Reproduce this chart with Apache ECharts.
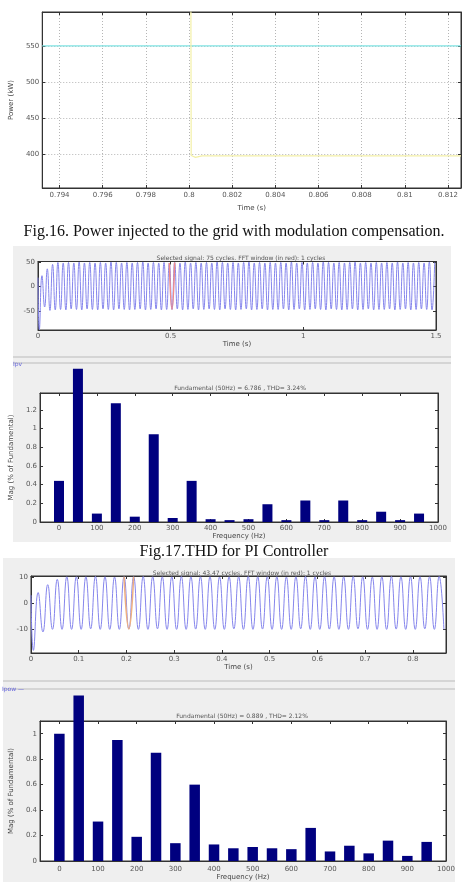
<!DOCTYPE html>
<html>
<head>
<meta charset="utf-8">
<script src="https://cdn.jsdelivr.net/npm/echarts@6.0.0/dist/echarts.min.js"></script>
<style>
  html, body { margin: 0; padding: 0; background: #fff; }
  #main { width: 468px; height: 882px; }
</style>
</head>
<body>
<div id="main"></div>
<script>
// Fig.16 power to grid
const pwrTicksX = [0.794, 0.796, 0.798, 0.8, 0.802, 0.804, 0.806, 0.808, 0.81, 0.812]
const pwrTicksY = [400, 450, 500, 550]
const pwrRef = [[0.7932, 550], [0.8126, 550]]
const pwrOut = [[0.7932, 700], [0.80008, 700], [0.8001, 398], [0.8003, 395.5], [0.8006, 397.5], [0.8126, 397.5]]

// Fig.17 top : selected signal, extrema every half cycle (50Hz)
const sigAStart = [0, 18]
const sigA = [
  -88, 22, -42, 36, -49, 45, -48, 49, -47, 48,
  -48, 49, -46, 48, -47, 50, -48, 48, -46, 49,
  -47, 48, -48, 49, -46, 48, -47, 50, -48, 49,
  -46, 48, -47, 49, -48, 48, -47, 49, -46, 50,
  -48, 48, -47, 49, -46, 48, -48, 49, -47, 48,
  -47, 49, -46, 48, -48, 50, -47, 48, -46, 49,
  -48, 48, -47, 49, -46, 48, -47, 50, -48, 49,
  -46, 48, -47, 49, -48, 48, -47, 49, -46, 50,
  -48, 48, -47, 49, -46, 48, -48, 49, -47, 48,
  -47, 49, -46, 48, -48, 50, -47, 48, -46, 49,
  -48, 48, -47, 49, -46, 48, -47, 50, -48, 49,
  -46, 48, -47, 49, -48, 48, -47, 49, -46, 50,
  -48, 48, -47, 49, -46, 48, -48, 49, -47, 48,
  -47, 49, -46, 48, -48, 50, -47, 48, -46, 49,
  -48, 48, -47, 49, -46, 48, -47, 50, -48, 49
]
const sigAWin = [0.495, 0.52]
const sigATicksX = [0, 0.5, 1, 1.5]
const sigATicksY = [-50, 0, 50]

// Fig.17 bottom : harmonic spectrum
const freqs = [0, 50, 100, 150, 200, 250, 300, 350, 400, 450, 500, 550, 600, 650, 700, 750, 800, 850, 900, 950]
const magPI = [0.44, 1.64, 0.09, 1.27, 0.057, 0.94, 0.043, 0.44, 0.03, 0.02, 0.03, 0.19, 0.02, 0.23, 0.02, 0.23, 0.02, 0.11, 0.02, 0.09]
const freqTicks = [0, 100, 200, 300, 400, 500, 600, 700, 800, 900, 1000]
const magPITicks = [0, 0.2, 0.4, 0.6, 0.8, 1, 1.2]

// Fig.18 top
const sigBStart = [0, 3]
const sigB = [
  -18, 4, -11, 7, -10, 9, -10, 10, -10, 10,
  -10, 10, -9.8, 10.1, -10, 10, -10, 9.9, -10, 10,
  -9.9, 10, -10, 10.1, -10, 10, -9.8, 10, -10, 10,
  -10, 10.1, -10, 10, -9.9, 10, -10, 10, -10, 9.9,
  -10, 10, -9.8, 10, -10, 10.1, -10, 10, -9.9, 10,
  -10, 10, -10, 9.9, -10, 10, -9.8, 10.1, -10, 10,
  -10, 10, -9.9, 10, -10, 10, -10, 10.1, -9.8, 10,
  -10, 9.9, -10, 10, -10, 10.1, -9.9, 10, -10, 10,
  -10, 10, -9.8, 10, -10, 10.1, -10
]
const sigBWin = [0.195, 0.22]
const sigBTicksX = [0, 0.1, 0.2, 0.3, 0.4, 0.5, 0.6, 0.7, 0.8]
const sigBTicksY = [-10, 0, 10]

// Fig.18 bottom
const magNew = [1.0, 1.30, 0.31, 0.95, 0.19, 0.85, 0.14, 0.60, 0.13, 0.10, 0.11, 0.10, 0.093, 0.26, 0.075, 0.12, 0.06, 0.16, 0.04, 0.15]
const magNewTicks = [0, 0.2, 0.4, 0.6, 0.8, 1]

const HALF = 0.01   // half period of 50 Hz
function wave (start, vals) {
  const out = [start]
  vals.forEach((v, i) => out.push([+(HALF / 2 + i * HALF).toFixed(4), v]))
  return out
}
const waveA = wave(sigAStart, sigA)
const waveB = wave(sigBStart, sigB)

const AX = '#333'
const LBL = { fontSize: 7, color: '#555', fontFamily: 'DejaVu Sans', formatter: v => String(v) }

// x axes: bottom with labels, top with ticks only
function xAxes (g, min, max, ticks, name, gap, margin, split) {
  const base = {
    type: 'value', gridIndex: g, min: min, max: max,
    axisLine: { show: true, onZero: false, lineStyle: { color: AX } },
    axisTick: { show: true, inside: true, length: 3, customValues: ticks, lineStyle: { color: AX } },
    splitLine: { show: !!split, lineStyle: { color: '#b5b5b5', type: [1, 2] } }
  }
  return [
    Object.assign({}, base, {
      position: 'bottom',
      axisLabel: Object.assign({ customValues: ticks, margin: margin }, LBL),
      name: name, nameLocation: 'middle', nameGap: gap,
      nameTextStyle: { fontSize: 7, color: '#444', fontFamily: 'DejaVu Sans' }
    }),
    Object.assign({}, base, { position: 'top', axisLabel: { show: false }, splitLine: { show: false } })
  ]
}
function yAxes (g, min, max, ticks, name, gap, split) {
  const base = {
    type: 'value', gridIndex: g, min: min, max: max,
    axisLine: { show: true, onZero: false, lineStyle: { color: AX } },
    axisTick: { show: true, inside: true, length: 3, customValues: ticks, lineStyle: { color: AX } },
    splitLine: { show: !!split, lineStyle: { color: '#b5b5b5', type: [1, 2] } }
  }
  return [
    Object.assign({}, base, {
      position: 'left',
      axisLabel: Object.assign({ customValues: ticks, margin: 3 }, LBL),
      name: name, nameLocation: 'middle', nameGap: gap,
      nameTextStyle: { fontSize: 7, color: '#444', fontFamily: 'DejaVu Sans' }
    }),
    Object.assign({}, base, { position: 'right', axisLabel: { show: false }, splitLine: { show: false } })
  ]
}

const gridStyle = { show: true, backgroundColor: '#fff', borderColor: AX, borderWidth: 1 }
const chartTitle = (text, x, y) => ({
  text: text, left: x, top: y, textAlign: 'center',
  textStyle: { fontSize: 6, fontWeight: 'normal', color: '#555', fontFamily: 'DejaVu Sans' }
})
const caption = (text, y) => ({
  text: text, left: 'center', top: y,
  textStyle: { fontSize: 16, fontWeight: 'normal', color: '#111', fontFamily: 'Liberation Serif' }
})

const myChart = echarts.init(document.querySelector('#main'), null, { renderer: 'canvas' })

const option = {
  backgroundColor: '#fff',
  animation: false,
  title: [
    caption('Fig.16. Power injected to the grid with modulation compensation.', 219),
    caption('Fig.17.THD for PI Controller', 539),
    chartTitle('Selected signal: 75 cycles. FFT window (in red): 1 cycles', 236, 250),
    chartTitle('Fundamental (50Hz) = 6.786 , THD= 3.24%', 235, 380),
    chartTitle('Selected signal: 43.47 cycles. FFT window (in red): 1 cycles', 237, 565),
    chartTitle('Fundamental (50Hz) = 0.889 , THD= 2.12%', 237, 708)
  ],
  graphic: [
    { type: 'rect', z: -10, shape: { x: 13, y: 246, width: 438, height: 296 }, style: { fill: '#efefef' } },
    { type: 'line', z: -9, shape: { x1: 13, y1: 357, x2: 451, y2: 357 }, style: { stroke: '#cdcdcd', lineWidth: 1.5 } },
    { type: 'line', z: -9, shape: { x1: 13, y1: 363, x2: 451, y2: 363 }, style: { stroke: '#cdcdcd', lineWidth: 1.5 } },
    { type: 'text', z: 5, style: { x: 13, y: 361, text: 'Ipv', fontSize: 6, fill: '#6666dd', fontFamily: 'DejaVu Sans' } },
    { type: 'rect', z: -10, shape: { x: 3, y: 558, width: 452, height: 324 }, style: { fill: '#efefef' } },
    { type: 'line', z: -9, shape: { x1: 3, y1: 681, x2: 455, y2: 681 }, style: { stroke: '#cdcdcd', lineWidth: 1.5 } },
    { type: 'line', z: -9, shape: { x1: 3, y1: 689, x2: 455, y2: 689 }, style: { stroke: '#cdcdcd', lineWidth: 1.5 } },
    { type: 'text', z: 5, style: { x: 2, y: 686, text: 'Ipow —', fontSize: 6, fill: '#6666dd', fontFamily: 'DejaVu Sans' } }
  ],
  grid: [
    Object.assign({ left: 25, top: 12, width: 436, height: 176 }, gridStyle),
    Object.assign({ left: 38, top: 261.5, width: 398, height: 68.5 }, gridStyle),
    Object.assign({ left: 36, top: 393, width: 402, height: 129 }, gridStyle),
    Object.assign({ left: 31, top: 576, width: 415, height: 77 }, gridStyle),
    Object.assign({ left: 30, top: 721, width: 416, height: 141 }, gridStyle)
  ],
  xAxis: [
    ...xAxes(0, 0.7932, 0.8126, pwrTicksX, 'Time (s)', 17, 4, true),
    ...xAxes(1, 0, 1.5, sigATicksX, 'Time (s)', 11, 3),
    ...xAxes(2, -50, 1000, freqTicks, 'Frequency (Hz)', 10, 3),
    ...xAxes(3, 0, 0.8694, sigBTicksX, 'Time (s)', 11, 3),
    ...xAxes(4, -50, 1000, freqTicks, 'Frequency (Hz)', 13, 5)
  ],
  yAxis: [
    ...yAxes(0, 353, 597, pwrTicksY, 'Power (kW)', 16, true),
    ...yAxes(1, -89, 51, sigATicksY, '', 10),
    ...yAxes(2, 0, 1.38, magPITicks, 'Mag (% of Fundamental)', 16),
    ...yAxes(3, -19, 10.3, sigBTicksY, '', 10),
    ...yAxes(4, 0, 1.1, magNewTicks, 'Mag (% of Fundamental)', 17)
  ],
  series: [
    { type: 'line', xAxisIndex: 0, yAxisIndex: 0, data: pwrRef, showSymbol: false, lineStyle: { color: '#7fe3e3', width: 1.2 } },
    { type: 'line', xAxisIndex: 0, yAxisIndex: 0, data: pwrOut, showSymbol: false, clip: true, lineStyle: { color: '#f3f0a6', width: 1.2 } },

    { type: 'line', xAxisIndex: 2, yAxisIndex: 2, data: waveA, showSymbol: false, smooth: 0.5, clip: true, lineStyle: { color: '#8585ec', width: 1 } },
    { type: 'line', xAxisIndex: 2, yAxisIndex: 2, data: waveA.filter(p => p[0] >= sigAWin[0] && p[0] <= sigAWin[1]), showSymbol: false, smooth: 0.5, lineStyle: { color: '#f08a8a', width: 1.5 } },

    { type: 'bar', xAxisIndex: 4, yAxisIndex: 4, data: freqs.map((f, i) => [f, magPI[i]]), barWidth: 10, clip: false, itemStyle: { color: '#00007f' } },

    { type: 'line', xAxisIndex: 6, yAxisIndex: 6, data: waveB, showSymbol: false, smooth: 0.5, clip: true, lineStyle: { color: '#8585ec', width: 1 } },
    { type: 'line', xAxisIndex: 6, yAxisIndex: 6, data: waveB.filter(p => p[0] >= sigBWin[0] && p[0] <= sigBWin[1]), showSymbol: false, smooth: 0.5, lineStyle: { color: '#f0b080', width: 1.5 } },

    { type: 'bar', xAxisIndex: 8, yAxisIndex: 8, data: freqs.map((f, i) => [f, magNew[i]]), barWidth: 10.5, clip: false, itemStyle: { color: '#00007f' } }
  ]
}

myChart.setOption(option)
</script>
</body>
</html>
